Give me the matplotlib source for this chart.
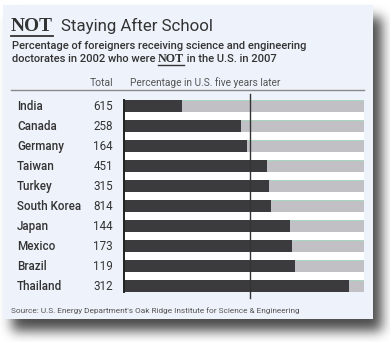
import numpy as np
import matplotlib
matplotlib.use("Agg")
import matplotlib.pyplot as plt
from matplotlib.patches import Rectangle

countries = ["India", "Canada", "Germany", "Taiwan", "Turkey", "South Korea",
             "Japan", "Mexico", "Brazil", "Thailand"]
totals = [615, 258, 164, 451, 315, 814, 144, 173, 119, 312]
pct = [24, 48.6, 51.4, 59.7, 60.5, 61.4, 69, 69.9, 71.1, 93.6]
ref_line = 52.4

sans = ["Roboto", "DejaVu Sans"]
serif = ["Liberation Serif", "DejaVu Serif"]

W, H = 390, 342
fig = plt.figure(figsize=(W / 100, H / 100), dpi=100)

# background axes in pixel coordinates
bg = fig.add_axes([0, 0, 1, 1])
bg.set_xlim(0, W)
bg.set_ylim(H, 0)
bg.axis("off")

# drop shadow
px, py, pw, ph = 3, 5, 370, 314
mask = np.zeros((H, W))
mask[py + 12:py + ph + 12, px + 9:px + pw + 9] = 1.0
k = np.exp(-0.5 * (np.arange(-18, 19) / 6.0) ** 2)
k /= k.sum()
blur = np.apply_along_axis(lambda r: np.convolve(r, k, mode="same"), 1, mask)
blur = np.apply_along_axis(lambda c: np.convolve(c, k, mode="same"), 0, blur)
shade = 1 - 0.7 * blur
bg.imshow(shade, cmap="gray", vmin=0, vmax=1, extent=[0, W, H, 0],
          interpolation="bilinear", zorder=0, aspect="auto")
bg.add_patch(Rectangle((px, py), pw, ph, facecolor="#eef3fb", edgecolor="none", zorder=1))

dark = "#333333"
fig.canvas.draw()
r = fig.canvas.get_renderer()


def put(x, y, s, fit=None, **kw):
    # draw text at pixel position, optionally scaled to a target width; returns (width, size)
    t = bg.text(x, y, s, zorder=5, **kw)
    bb = t.get_window_extent(renderer=r)
    if fit:
        t.set_size(t.get_size() * fit / (bb.x1 - bb.x0))
        bb = t.get_window_extent(renderer=r)
    return bb.x1 - bb.x0, t.get_size()


# title
w, _ = put(11, 31, "NOT", fit=42, family=serif, weight="bold", size=16, color=dark)
bg.plot([11, 11 + w], [35.5, 35.5], color=dark, lw=1.3, zorder=5)
put(61, 31, "Staying After School", family=sans, size=12.2, color=dark)

# subtitle
_, sub = put(12, 49, "Percentage of foreigners receiving science and engineering",
             fit=295, family=sans, weight="medium", size=8.6, color=dark)
w1, _ = put(12, 62.5, "doctorates in 2002 who were ", family=sans, weight="medium",
            size=sub, color=dark)
w2, _ = put(12 + w1, 62.5, "NOT", family=serif, weight="bold", size=sub * 1.08, color=dark)
bg.plot([12 + w1, 12 + w1 + w2], [64.8, 64.8], color=dark, lw=1, zorder=5)
put(12 + w1 + w2, 62.5, " in the U.S. in 2007", family=sans, weight="medium",
    size=sub, color=dark)

# column headers
put(113, 86, "Total", family=sans, size=7.5, color="#555555", ha="right")
put(130, 86, "Percentage in U.S. five years later", fit=151, family=sans, size=7.3,
    color="#555555")
bg.plot([11, 364], [89.5, 89.5], color="#8a8a8a", lw=1, zorder=5)

# source
put(11, 313, "Source: U.S. Energy Department's Oak Ridge Institute for Science & Engineering",
    fit=289, family=sans, size=5.6, color="#555555")

# bar axes
x0, x1 = 124, 364
ytop, ybot = 99.6, 292.4
ax = fig.add_axes([x0 / W, 1 - ybot / H, (x1 - x0) / W, (ybot - ytop) / H])
ax.set_xlim(0, 100)
ax.set_ylim(len(countries) - 0.68, -0.32)
ax.set_facecolor("white")
for s in ["top", "right", "bottom"]:
    ax.spines[s].set_visible(False)
ax.spines["left"].set_color("#222222")
ax.spines["left"].set_linewidth(1.4)
ax.set_xticks([])
ax.set_yticks([])

y = np.arange(len(countries))
rest = [100 - p for p in pct]
ax.barh(y, pct, height=0.64, color="#3b3a3c", zorder=2)
ax.barh(y, rest, left=pct, height=0.64, color="#c1c1c5", zorder=2)
ax.hlines(y - 0.32, pct, 100, color="#a6d9c0", lw=0.6, zorder=3)
ax.plot([ref_line, ref_line], [-0.62, len(countries) - 0.38], color="#333333",
        lw=1, zorder=4, clip_on=False)

for i, (c, t) in enumerate(zip(countries, totals)):
    yy = 106 + 20 * i + 4
    put(17, yy, c, family=sans, weight="medium", size=8.4, color=dark)
    put(113, yy, str(t), family=sans, size=8.4, color=dark, ha="right")

fig.savefig("out.png", dpi=100)
